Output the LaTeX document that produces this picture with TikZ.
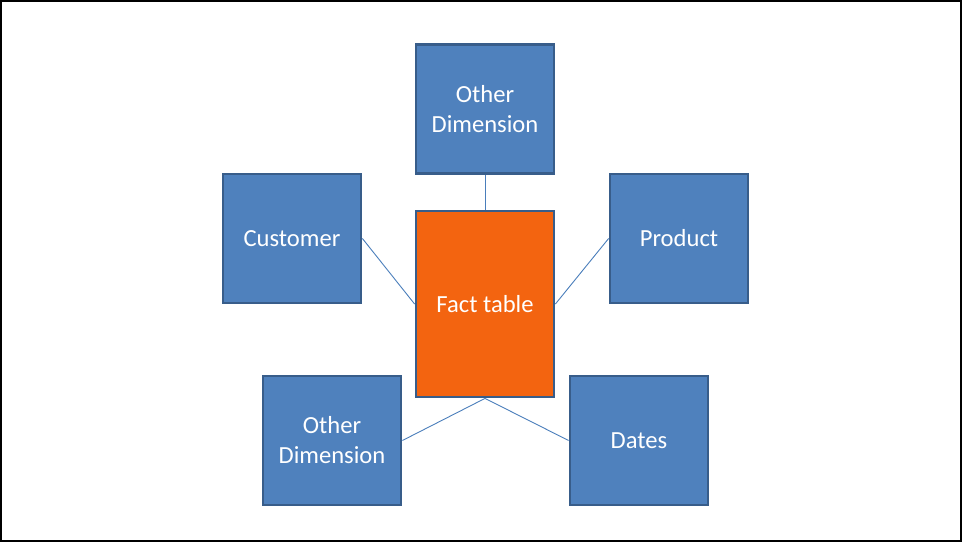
\documentclass[tikz,border=0pt]{standalone}
\usepackage{fontspec}
\setmainfont{Carlito}
\definecolor{boxblue}{HTML}{4F81BD}
\definecolor{boxedge}{HTML}{385D8A}
\definecolor{factorange}{HTML}{F36410}
\definecolor{linkblue}{HTML}{4A7EBB}
\begin{document}
\begin{tikzpicture}[x=1pt,y=-1pt,
  dimbox/.style={draw=boxedge,line width=2.8pt,fill=boxblue,text=white,
    minimum width=138pt,minimum height=129pt,inner sep=0pt,align=center,
    font=\fontsize{24.6}{30}\selectfont},
  factbox/.style={dimbox,fill=factorange,minimum height=186pt},
  link/.style={draw=linkblue,line width=0.9pt}]
\useasboundingbox (0,0) rectangle (962,542);
\draw[line width=2pt] (1,1) rectangle (961,541);
\node[dimbox] (top) at (485,109) {Other\\Dimension};
\node[dimbox] (cust) at (292,238.5) {Customer};
\node[factbox] (fact) at (485,304) {Fact table};
\node[dimbox] (prod) at (679,238.5) {Product};
\node[dimbox] (other) at (332,440.5) {Other\\Dimension};
\node[dimbox] (dates) at (639,440.5) {Dates};
\draw[link] (top.south) -- (fact.north);
\draw[link] (cust.east) -- (fact.west);
\draw[link] (prod.west) -- (fact.east);
\draw[link] (fact.south) -- (other.east);
\draw[link] (fact.south) -- (dates.west);
\end{tikzpicture}
\end{document}
